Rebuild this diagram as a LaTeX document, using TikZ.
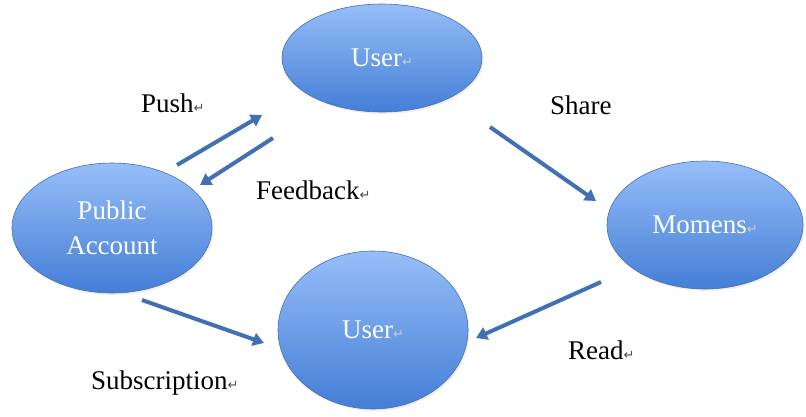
\documentclass[tikz,border=0pt]{standalone}
\usepackage{fontspec}
\setmainfont{Liberation Serif}
\newfontfamily\symfont{DejaVu Sans}
\usetikzlibrary{arrows.meta,shapes.geometric,shadows}
\definecolor{ltop}{RGB}{150,190,248}
\definecolor{lbot}{RGB}{68,126,214}
\definecolor{edge}{RGB}{70,110,185}
\definecolor{acol}{RGB}{66,112,180}
\newcommand\retmark[1][black!70]{{\color{#1}\symfont\fontsize{13}{13}\selectfont ↵}}
\tikzset{
  bubble/.style={ellipse, draw=edge, line width=0.6pt, top color=ltop, bottom color=lbot,
    inner sep=0pt, text=white, align=center, font=\fontsize{27}{35}\selectfont,
    drop shadow={opacity=0.12, shadow xshift=1.5pt, shadow yshift=-2pt}},
  flow/.style={draw=acol, line width=4pt, -{Triangle[length=11pt,width=13pt]}},
  lab/.style={font=\fontsize{27}{30}\selectfont, text=black, inner sep=0pt, anchor=west}
}
\begin{document}
\begin{tikzpicture}[x=1pt,y=-1pt]
\fill[white] (0,0) rectangle (806,416);
\useasboundingbox (0,0) rectangle (806,416);
\node[bubble, minimum width=200pt, minimum height=108pt] (utop) at (382,58) {User\retmark[white!60!gray]};
\node[bubble, minimum width=200pt, minimum height=130pt] (pub) at (112,228) {Public\\Account};
\node[bubble, minimum width=196pt, minimum height=128pt] (mom) at (705,225) {Momens\retmark[white!60!gray]};
\node[bubble, minimum width=190pt, minimum height=158pt] (ubot) at (373,330) {User\retmark[white!60!gray]};

\coordinate (push1) at (177,165);
\coordinate (push2) at (262,115);
\coordinate (fb1) at (273,138);
\coordinate (fb2) at (200,185);
\coordinate (sh1) at (490,127);
\coordinate (sh2) at (596,201);
\coordinate (rd1) at (601,282);
\coordinate (rd2) at (476,338);
\coordinate (sb1) at (142,300);
\coordinate (sb2) at (264,343);

\draw[flow] (push1) -- (push2);
\draw[flow] (fb1) -- (fb2);
\draw[flow] (sh1) -- (sh2);
\draw[flow] (rd1) -- (rd2);
\draw[flow] (sb1) -- (sb2);

\node[lab] (lpush) at (141,103) {Push\retmark};
\node[lab] (lfb) at (256,190) {Feedback\retmark};
\node[lab] (lsh) at (550,105) {Share};
\node[lab] (lrd) at (568,350) {Read\retmark};
\node[lab] (lsb) at (91,383) {Subscription\retmark};
\end{tikzpicture}
\end{document}
